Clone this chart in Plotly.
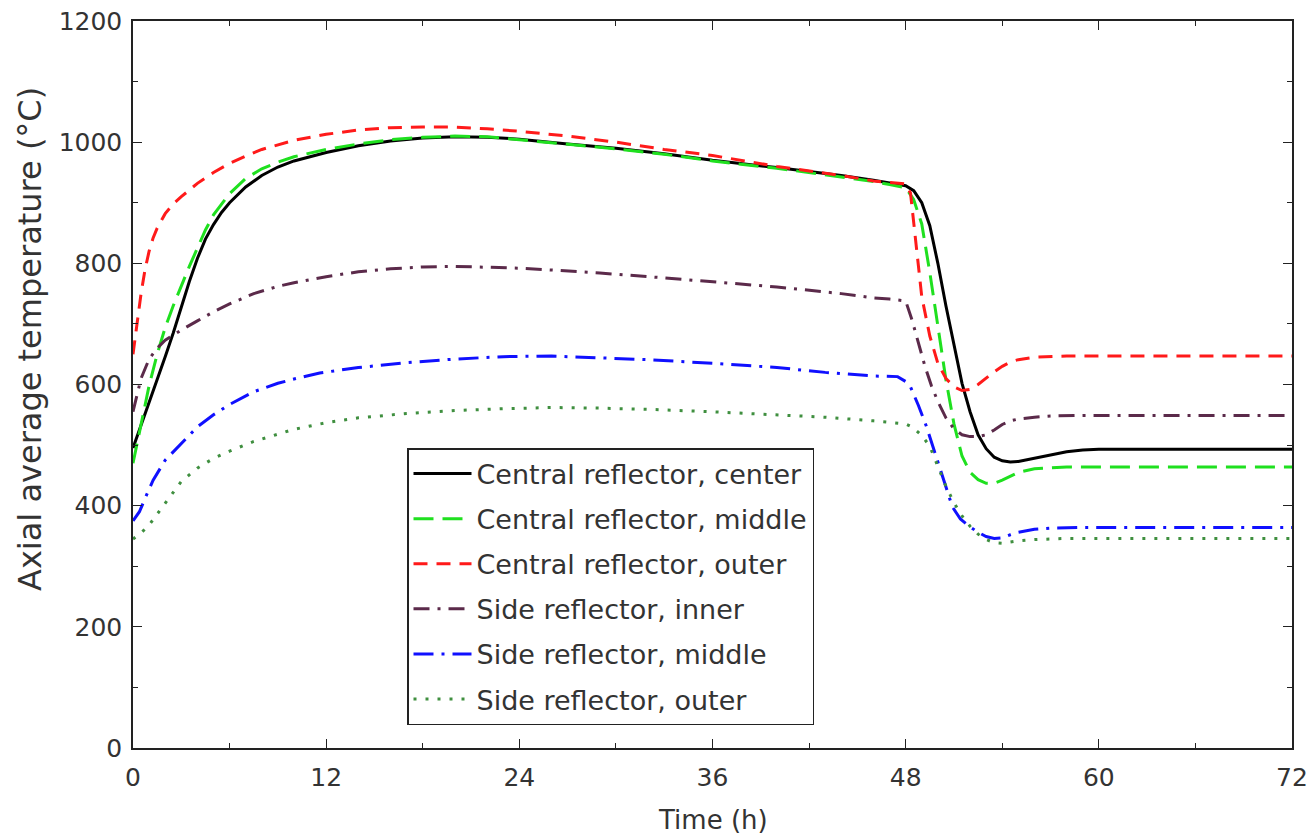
import plotly.graph_objects as go

# ---------------- data ----------------
t_cc = [0, 0.5, 1, 1.5, 2, 2.5, 3, 3.5, 4, 4.5, 5, 5.5, 6, 7, 8, 9, 10, 12, 14, 16, 18, 20, 22, 24, 27, 30, 33, 36, 40, 44, 46, 47, 47.5,
        48, 48.5, 49, 49.5, 50, 50.5, 51, 51.5, 52, 52.5, 53, 53.5, 54, 54.5, 55, 56, 57, 58, 59, 60, 66, 72]
T_cc = [495, 532, 570, 608, 646, 685, 728, 770, 808, 840, 864, 884, 900, 926, 945, 959, 969, 983, 994, 1002, 1007, 1009, 1008, 1005, 997, 990, 981, 970, 958, 945, 937, 933, 931,
        928, 920, 900, 862, 800, 730, 665, 602, 555, 517, 494, 480, 474, 472, 473, 478, 484, 489, 492, 493, 493, 493]

t_cm = [0, 0.5, 1, 1.5, 2, 2.5, 3, 3.5, 4, 4.5, 5, 5.5, 6, 7, 8, 9, 10, 12, 14, 16, 18, 20, 22, 24, 27, 30, 33, 36, 40, 44, 46, 47, 47.5,
        48, 48.5, 49, 49.5, 50, 50.5, 51, 51.5, 52, 52.5, 53, 53.5, 54, 54.5, 55, 56, 57, 58, 60, 72]
T_cm = [470, 535, 598, 650, 694, 730, 763, 795, 825, 855, 880, 898, 915, 940, 956, 967, 976, 988, 997, 1004, 1008, 1010, 1009, 1004, 997, 989, 980, 969, 957, 943, 935, 930, 928,
        925, 905, 865, 785, 700, 608, 535, 482, 455, 443, 437, 437, 442, 449, 455, 461, 463, 464, 464, 464]

t_co = [0, 0.25, 0.5, 0.75, 1, 1.25, 1.5, 2, 2.5, 3, 4, 5, 6, 7, 8, 10, 12, 14, 16, 18, 20, 22, 24, 27, 30, 33, 36, 40, 44, 46, 47,
        48, 48.3, 48.6, 49, 49.5, 50, 50.5, 51, 51.5, 52, 52.5, 53, 53.5, 54, 54.5, 55, 56, 58, 72]
T_co = [650, 700, 750, 790, 820, 842, 858, 882, 898, 910, 932, 950, 965, 977, 988, 1003, 1013, 1020, 1024, 1025, 1025, 1022, 1018, 1010, 1000, 988, 978, 960, 945, 936, 933,
        931, 916, 840, 745, 680, 635, 610, 596, 590, 592, 600, 611, 621, 630, 637, 641, 645, 647, 647]

t_si = [0, 0.25, 0.5, 1, 1.5, 2, 3, 4, 5, 6, 7.5, 9, 10, 12, 14, 16, 18, 20, 22, 24, 26, 29, 33, 36, 40, 44, 46, 47,
        48, 48.4, 48.8, 49.2, 49.6, 50, 50.5, 51, 51.5, 52, 52.5, 53, 53.5, 54, 54.5, 55, 56, 57, 59, 72]
T_si = [555, 585, 610, 642, 660, 673, 690, 705, 720, 733, 750, 762, 768, 778, 786, 791, 794, 795, 794, 792, 789, 784, 776, 770, 761, 750, 743, 741,
        738, 706, 668, 630, 598, 572, 545, 527, 517, 514, 514, 517, 525, 534, 540, 543, 546, 548, 549, 549]

t_sm = [0, 0.4, 0.8, 1.25, 2, 3, 4, 5, 6, 7.5, 9, 10, 11.6, 14, 17, 20, 23, 26, 29, 32, 36, 40, 43, 46, 47.5,
        48, 48.3, 48.8, 49.3, 49.7, 50.1, 50.5, 50.9, 51.4, 52, 52.5, 53, 53.5, 54, 54.5, 55, 56, 57, 59, 72]
T_sm = [375, 390, 415, 442, 475, 503, 530, 550, 567, 588, 602, 609, 619, 628, 636, 642, 646, 647, 644, 641, 635, 628, 620, 614, 613,
        605, 596, 565, 530, 497, 464, 430, 398, 378, 365, 356, 349, 346, 347, 352, 356, 361, 363, 364, 364]

t_so = [0, 0.5, 1, 2, 3, 4, 5, 6, 7.5, 9, 10, 12, 14, 17, 20, 23, 26, 29, 32, 36, 40, 43, 46, 47.5,
        48, 48.4, 49, 49.5, 50, 50.5, 51, 51.5, 52, 52.5, 53, 53.5, 54, 54.5, 55, 56, 58, 72]
T_so = [345, 355, 368, 405, 440, 462, 478, 490, 506, 518, 526, 537, 545, 552, 557, 560, 562, 561, 559, 555, 550, 546, 540, 537,
        535, 530, 516, 498, 465, 432, 405, 383, 366, 353, 344, 339, 338, 340, 342, 344, 346, 346]

names = ["Central reflector, center", "Central reflector, middle", "Central reflector, outer",
         "Side reflector, inner", "Side reflector, middle", "Side reflector, outer"]

x_ticks = [0, 12, 24, 36, 48, 60, 72]
y_ticks = [0, 200, 400, 600, 800, 1000, 1200]

x_title = "Time (h)"
y_title = "Axial average temperature (°C)"

# ---------------- figure ----------------
series = [
    (t_cc, T_cc, names[0], "#000000", "solid", 3),
    (t_cm, T_cm, names[1], "#1fe01f", "20px,9px", 3),
    (t_co, T_co, names[2], "#ff1a1a", "14px,9px", 3),
    (t_si, T_si, names[3], "#5b2a4a", "16px,8px,3px,8px", 3),
    (t_sm, T_sm, names[4], "#1010ff", "20px,8px,3px,8px", 3),
    (t_so, T_so, names[5], "#3f8f3f", "3px,9px", 3),
]

fig = go.Figure()
for i, (x, y, nm, col, dash, w) in enumerate(series):
    fig.add_trace(go.Scatter(x=x, y=y, mode="lines", name=nm, legendgroup=f"g{i}",
                             line=dict(color=col, dash=dash, width=w)))

FONT = "DejaVu Sans"
TXT = "#333333"
axis_common = dict(showgrid=False, zeroline=False, showline=True, linecolor="#222222", linewidth=1.5,
                   mirror="ticks", ticks="inside", ticklen=9, tickwidth=1.3, tickcolor="#222222",
                   automargin=False,
                   tickfont=dict(family=FONT, size=25, color=TXT))

fig.update_xaxes(range=[0, 72], tickvals=x_ticks, ticktext=[str(v) for v in x_ticks],
                 minor=dict(dtick=6, ticks="inside", ticklen=5, tickwidth=1.2, tickcolor="#222222"),
                 ticklabelstandoff=6,
                 **axis_common)
fig.update_yaxes(range=[0, 1200], tickvals=y_ticks, ticktext=[str(v) for v in y_ticks],
                 minor=dict(dtick=100, ticks="inside", ticklen=5, tickwidth=1.2, tickcolor="#222222"),
                 ticklabelstandoff=4,
                 **axis_common)

fig.add_annotation(text=x_title, xref="paper", yref="paper", x=0.5, y=-0.099,
                   xanchor="center", yanchor="middle", showarrow=False,
                   font=dict(family=FONT, size=26, color=TXT))
fig.add_annotation(text=y_title, xref="paper", yref="paper", x=-(133 - 30) / 1159, y=0.5626,
                   xanchor="center", yanchor="middle", showarrow=False, textangle=-90,
                   font=dict(family=FONT, size=32, color=TXT))

fig.update_layout(
    width=1310, height=837,
    margin=dict(l=133, r=18, t=21, b=89, autoexpand=False),
    plot_bgcolor="white", paper_bgcolor="white",
    legend=dict(x=(407 - 133) / 1159, y=(748 - 448) / 727, xanchor="left", yanchor="top",
                bordercolor="#222222", borderwidth=1.5, bgcolor="white",
                font=dict(family=FONT, size=27, color=TXT),
                tracegroupgap=7, itemwidth=58, traceorder="grouped"),
    showlegend=True,
)

fig.write_html("out.html", config={"displayModeBar": False},
               post_script="document.body.style.margin='0';document.body.style.overflow='hidden';")
